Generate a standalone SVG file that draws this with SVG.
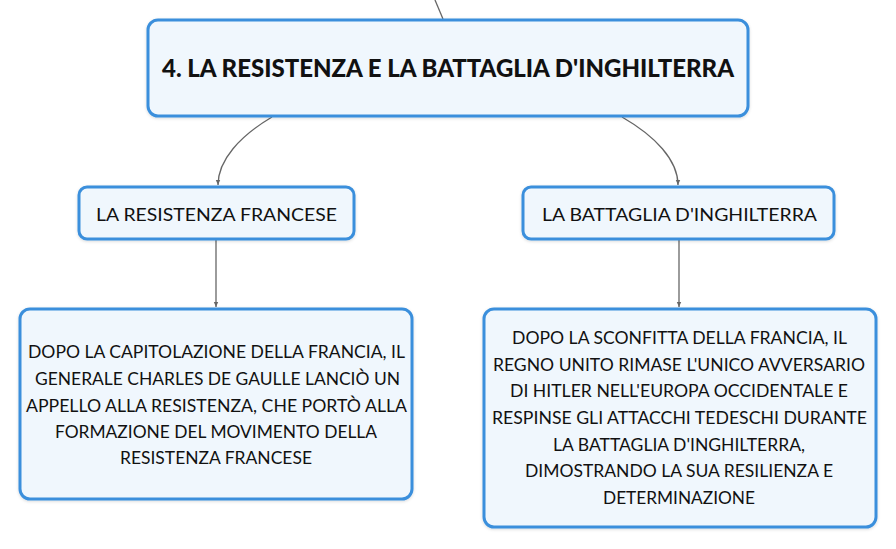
<svg xmlns="http://www.w3.org/2000/svg" width="896" height="549" viewBox="0 0 896 549">
<style>
.box{fill:#f0f7fd;stroke:#3a8fdc;stroke-width:3}
.t{font-family:Lato,"Liberation Sans",sans-serif;fill:#111;text-anchor:middle}
.root{font-size:24px;font-weight:900}
.mid{font-size:18px}
.leaf{font-size:17px}
.con{fill:none;stroke:#666;stroke-width:1.3}
</style>
<defs>
<marker id="ah" markerWidth="6" markerHeight="6" refX="5" refY="3" orient="auto" markerUnits="userSpaceOnUse">
<path d="M0,0.8 L5,3 L0,5.2 z" fill="#666"/>
</marker>
<filter id="sh" x="-5%" y="-5%" width="110%" height="115%">
<feDropShadow dx="0" dy="1" stdDeviation="1.5" flood-color="#000" flood-opacity="0.15"/>
</filter>
</defs>
<g id="connectors">
<path class="con" d="M435,0 L443,19"/>
<path class="con" d="M272,117 C240,136 218,160 218,185" marker-end="url(#ah)"/>
<path class="con" d="M622,117 C655,136 678,160 678,185" marker-end="url(#ah)"/>
<path class="con" d="M216,240 L216,307" marker-end="url(#ah)"/>
<path class="con" d="M679,240 L679,307" marker-end="url(#ah)"/>
</g>
<g id="root">
<rect class="box" x="148" y="20" width="600" height="96" rx="10" filter="url(#sh)"/>
<text class="t root" x="448" y="77" textLength="572" lengthAdjust="spacingAndGlyphs">4. LA RESISTENZA E LA BATTAGLIA D'INGHILTERRA</text>
</g>
<g id="resistenza">
<rect class="box" x="79" y="187" width="275" height="52" rx="8" filter="url(#sh)"/>
<text class="t mid" x="216.5" y="220.5" textLength="241" lengthAdjust="spacingAndGlyphs">LA RESISTENZA FRANCESE</text>
</g>
<g id="battaglia">
<rect class="box" x="523" y="187" width="311" height="52" rx="8" filter="url(#sh)"/>
<text class="t mid" x="679.5" y="220.5" textLength="275" lengthAdjust="spacingAndGlyphs">LA BATTAGLIA D'INGHILTERRA</text>
</g>
<g id="leaf1">
<rect class="box" x="20" y="309" width="392" height="190" rx="10" filter="url(#sh)"/>
<text class="t leaf" x="216.5" y="358" textLength="377" lengthAdjust="spacingAndGlyphs">DOPO LA CAPITOLAZIONE DELLA FRANCIA, IL</text>
<text class="t leaf" x="217.5" y="384.5" textLength="365" lengthAdjust="spacingAndGlyphs">GENERALE CHARLES DE GAULLE LANCIÒ UN</text>
<text class="t leaf" x="216.5" y="411.5" textLength="381" lengthAdjust="spacingAndGlyphs">APPELLO ALLA RESISTENZA, CHE PORTÒ ALLA</text>
<text class="t leaf" x="216" y="438" textLength="322" lengthAdjust="spacingAndGlyphs">FORMAZIONE DEL MOVIMENTO DELLA</text>
<text class="t leaf" x="216" y="463.5" textLength="192" lengthAdjust="spacingAndGlyphs">RESISTENZA FRANCESE</text>
</g>
<g id="leaf2">
<rect class="box" x="484" y="309" width="392" height="218" rx="10" filter="url(#sh)"/>
<text class="t leaf" x="679.5" y="343.5" textLength="335" lengthAdjust="spacingAndGlyphs">DOPO LA SCONFITTA DELLA FRANCIA, IL</text>
<text class="t leaf" x="679" y="370.5" textLength="372" lengthAdjust="spacingAndGlyphs">REGNO UNITO RIMASE L'UNICO AVVERSARIO</text>
<text class="t leaf" x="679" y="397" textLength="338" lengthAdjust="spacingAndGlyphs">DI HITLER NELL'EUROPA OCCIDENTALE E</text>
<text class="t leaf" x="679.5" y="423.5" textLength="375" lengthAdjust="spacingAndGlyphs">RESPINSE GLI ATTACCHI TEDESCHI DURANTE</text>
<text class="t leaf" x="679" y="450.5" textLength="252" lengthAdjust="spacingAndGlyphs">LA BATTAGLIA D'INGHILTERRA,</text>
<text class="t leaf" x="679" y="477" textLength="308" lengthAdjust="spacingAndGlyphs">DIMOSTRANDO LA SUA RESILIENZA E</text>
<text class="t leaf" x="679" y="503.5" textLength="152" lengthAdjust="spacingAndGlyphs">DETERMINAZIONE</text>
</g>
</svg>
